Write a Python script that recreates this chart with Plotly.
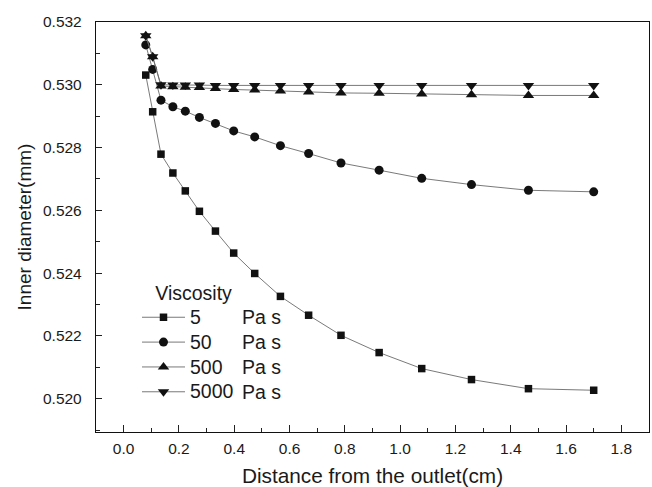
import plotly.graph_objects as go

# Distance from the outlet (cm), shared by all four viscosity runs
distance = [0.080, 0.105, 0.135, 0.178, 0.223, 0.274, 0.332, 0.398, 0.474,
            0.567, 0.669, 0.786, 0.924, 1.078, 1.258, 1.464, 1.700]

# Inner diameter (mm) for each melt viscosity
d_5 = [0.53031, 0.52914, 0.52779, 0.52719, 0.52662, 0.52597, 0.52534, 0.52464,
       0.52399, 0.52326, 0.52266, 0.52202, 0.52147, 0.52096, 0.52061, 0.52032,
       0.52027]
d_50 = [0.53127, 0.53049, 0.52951, 0.52930, 0.52916, 0.52896, 0.52877, 0.52853,
        0.52834, 0.52806, 0.52781, 0.52751, 0.52728, 0.52702, 0.52682, 0.52664,
        0.52659]
d_500 = [0.53156, 0.53089, 0.52996, 0.52994, 0.52992, 0.52991, 0.52988, 0.52985,
         0.52983, 0.52980, 0.52977, 0.52974, 0.52973, 0.52971, 0.52968, 0.52966,
         0.52966]
d_5000 = [0.53156, 0.53089, 0.53000, 0.52999, 0.52999, 0.52999, 0.52998, 0.52998,
          0.52998, 0.52998, 0.52998, 0.52998, 0.52998, 0.52998, 0.52998, 0.52998,
          0.52998]

series_names = ["5", "50", "500", "5000"]
series_values = [d_5, d_50, d_500, d_5000]
series_symbols = ["square", "circle", "triangle-up", "triangle-down"]
series_sizes = [7.5, 9, 10, 10]
unit_label = "Pa s"
legend_title = "Viscosity"

x_ticks = [0.0, 0.2, 0.4, 0.6, 0.8, 1.0, 1.2, 1.4, 1.6, 1.8]
y_ticks = [0.520, 0.522, 0.524, 0.526, 0.528, 0.530, 0.532]

FONT = "Liberation Sans, Arial, Helvetica, sans-serif"
INK = "#1a1a1a"
LEG_FS = 19.5  # size the legend glyphs are drawn at


def big(txt):
    return f'<span style="font-size:{LEG_FS}px">{txt}</span>'


fig = go.Figure()
for name, vals, sym, size in zip(series_names, series_values, series_symbols, series_sizes):
    fig.add_trace(go.Scatter(
        x=distance, y=vals, name=big(name), mode="lines+markers",
        line=dict(color="#6a6a6a", width=0.9),
        marker=dict(symbol=sym, size=size, color="#111111", line=dict(width=0)),
    ))

W, H = 652, 487
ml, mr, mt, mb = 96, 3, 22, 55
pw, ph = W - ml - mr, H - mt - mb

fig.update_layout(
    width=W, height=H,
    margin=dict(l=ml, r=mr, t=mt, b=mb, pad=0),
    paper_bgcolor="white", plot_bgcolor="white",
    font=dict(family=FONT, color=INK, size=15.5),
    showlegend=True,
    legend=dict(
        x=(137 - ml) / pw, y=(H - mb - 278) / ph, xanchor="left", yanchor="top",
        bgcolor="rgba(0,0,0,0)", borderwidth=0,
        font=dict(family=FONT, size=16.8, color=INK),
        tracegroupgap=0, itemwidth=43,
        title=dict(text=big("\u00a0\u00a0\u00a0" + legend_title),
                   font=dict(family=FONT, size=16.8, color=INK)),
    ),
)

fig.update_xaxes(
    range=[-0.1, 1.9], tickvals=x_ticks, ticktext=[f"{v:.1f}" for v in x_ticks],
    ticks="inside", ticklen=7, tickwidth=1, tickcolor="#222",
    minor=dict(dtick=0.1, tick0=0.1, ticks="inside", ticklen=4, tickwidth=1, tickcolor="#222", showgrid=False),
    showline=True, linecolor="#111", linewidth=1.3, mirror=True,
    showgrid=False, zeroline=False,
    tickfont=dict(size=15.5, color=INK), ticklabelstandoff=2,
    title=dict(text="Distance from the outlet(cm)", font=dict(size=20.8, color=INK), standoff=14),
)
fig.update_yaxes(
    range=[0.51894, 0.532], tickvals=y_ticks, ticktext=[f"{v:.3f}" for v in y_ticks],
    ticks="inside", ticklen=6, tickwidth=1, tickcolor="#222",
    minor=dict(dtick=0.001, tick0=0.519, ticks="inside", ticklen=3.5, tickwidth=1, tickcolor="#222", showgrid=False),
    showline=True, linecolor="#111", linewidth=1.3, mirror=True,
    showgrid=False, zeroline=False,
    tickfont=dict(size=15.5, color=INK), ticklabelstandoff=10,
    title=dict(text="Inner diameter(mm)", font=dict(size=19, color=INK), standoff=6),
)

# Unit column next to the legend entries
row_centers_px = [316.7, 342.3, 366.7, 391.7]
for yc in row_centers_px:
    fig.add_annotation(
        x=(240 - ml) / pw, y=(H - mb - yc) / ph, xref="paper", yref="paper",
        text=unit_label, showarrow=False, xanchor="left", yanchor="middle",
        font=dict(family=FONT, size=LEG_FS, color=INK),
    )

fig.write_html("out.html")
